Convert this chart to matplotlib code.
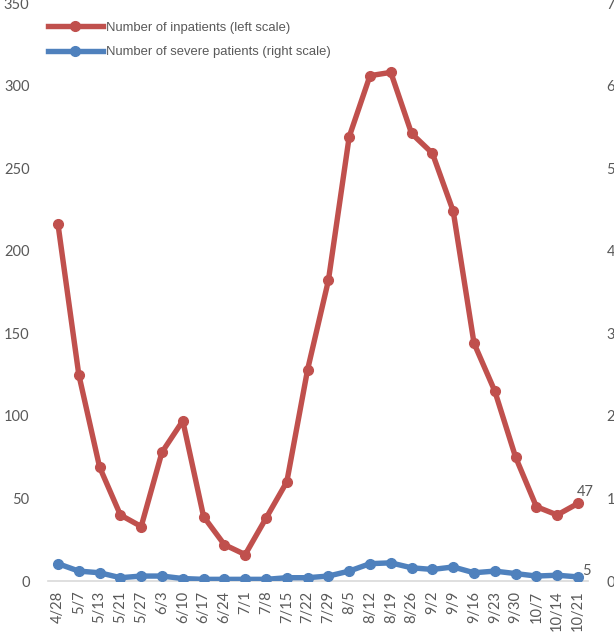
import matplotlib.pyplot as plt

# Weekly counts
dates = ["4/28", "5/7", "5/13", "5/21", "5/27", "6/3", "6/10", "6/17", "6/24",
         "7/1", "7/8", "7/15", "7/22", "7/29", "8/5", "8/12", "8/19", "8/26",
         "9/2", "9/9", "9/16", "9/23", "9/30", "10/7", "10/14", "10/21"]
inpatients = [216, 125, 69, 40, 33, 78, 97, 39, 22, 16, 38, 60, 128, 182,
              269, 306, 308, 271, 259, 224, 144, 115, 75, 45, 40, 47]
severe = [21, 12, 10, 4, 6, 6, 3, 2, 2, 2, 2, 4, 4, 6, 12, 21, 22, 16, 14,
          17, 10, 12, 9, 6, 7, 5]

red = "#C0504D"
blue = "#4F81BD"
grey_txt = "#595959"
tick_font = "Lato"

fig = plt.figure(figsize=(6.14, 6.42), dpi=100)
ax = fig.add_axes([0.0775, 0.095, 0.8808, 0.9003])
ax2 = ax.twinx()

x = list(range(len(dates)))
l1, = ax.plot(x, inpatients, color=red, lw=3.9, marker="o", ms=7,
              solid_joinstyle="round", label="Number of inpatients (left scale)")
l2, = ax2.plot(x, severe, color=blue, lw=3.9, marker="o", ms=7,
               solid_joinstyle="round", label="Number of severe patients (right scale)")

ax.set_xlim(-0.5, len(dates) - 0.5)
ax.set_ylim(0, 350)
ax2.set_ylim(0, 700)
ax.set_yticks(range(0, 351, 50))
ax2.set_yticks(range(0, 701, 100))
ax.set_xticks(x)
ax.set_xticklabels(dates, rotation=90, fontsize=10.5, color=grey_txt,
                   family=tick_font)
for lab in ax.get_yticklabels() + ax2.get_yticklabels():
    lab.set_fontsize(10.5)
    lab.set_color(grey_txt)
    lab.set_family(tick_font)

ax.tick_params(axis="y", length=0, pad=13)
ax.tick_params(axis="x", length=0, pad=7)
ax2.tick_params(axis="y", length=0, pad=13)

for a in (ax, ax2):
    for s in a.spines.values():
        s.set_visible(False)
ax.spines["bottom"].set_visible(True)
ax.spines["bottom"].set_color("#D9D9D9")
ax.spines["bottom"].set_linewidth(1.2)

# value labels on the last week
ax.annotate(str(inpatients[-1]), (x[-1], inpatients[-1]), xytext=(5, 8),
            textcoords="offset points", fontsize=10.5, color=grey_txt,
            family=tick_font, ha="center", va="center")
ax2.annotate(str(severe[-1]), (x[-1], severe[-1]), xytext=(6, 4),
             textcoords="offset points", fontsize=10.5, color=grey_txt,
             family=tick_font, ha="center", va="center")

fig.legend(handles=[l1, l2], loc="upper left",
           bbox_to_anchor=(0.0782, 0.9665), frameon=False,
           prop={"family": "Liberation Sans", "size": 9.4},
           handlelength=4.2, handletextpad=0.22, labelspacing=0.95,
           borderpad=0, borderaxespad=0, numpoints=1, labelcolor=grey_txt)

fig.savefig("out.png", dpi=100)
